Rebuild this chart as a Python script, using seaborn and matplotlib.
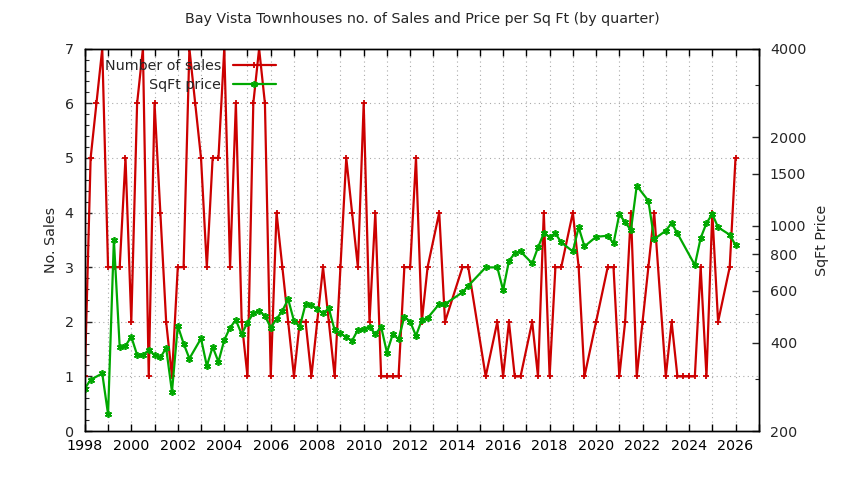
import numpy as np
import pandas as pd
import seaborn as sns
import matplotlib
matplotlib.use("Agg")
import matplotlib.pyplot as plt
from matplotlib.ticker import MultipleLocator, FixedLocator, NullFormatter, FixedFormatter

# quarterly number of sales
sales_year = [1998.0, 1998.25, 1998.5, 1998.75,
              1999.0, 1999.25, 1999.5, 1999.75,
              2000.0, 2000.25, 2000.5, 2000.75,
              2001.0, 2001.25, 2001.5, 2001.75,
              2002.0, 2002.25, 2002.5, 2002.75,
              2003.0, 2003.25, 2003.5, 2003.75,
              2004.0, 2004.25, 2004.5, 2004.75,
              2005.0, 2005.25, 2005.5, 2005.75,
              2006.0, 2006.25, 2006.5, 2006.75,
              2007.0, 2007.25, 2007.5, 2007.75,
              2008.0, 2008.25, 2008.5, 2008.75,
              2009.0, 2009.25, 2009.5, 2009.75,
              2010.0, 2010.25, 2010.5, 2010.75,
              2011.0, 2011.25, 2011.5, 2011.75,
              2012.0, 2012.25, 2012.5, 2012.75,
              2013.25, 2013.5, 2014.25, 2014.5,
              2015.25, 2015.75,
              2016.0, 2016.25, 2016.5, 2016.75,
              2017.25, 2017.5, 2017.75,
              2018.0, 2018.25, 2018.5,
              2019.0, 2019.25, 2019.5,
              2020.0, 2020.5, 2020.75,
              2021.0, 2021.25, 2021.5, 2021.75,
              2022.0, 2022.25, 2022.5,
              2023.0, 2023.25, 2023.5, 2023.75,
              2024.0, 2024.25, 2024.5, 2024.75,
              2025.0, 2025.25, 2025.75,
              2026.0]
sales_count = [1, 5, 6, 7,
               3, 3, 3, 5,
               2, 6, 7, 1,
               6, 4, 2, 1,
               3, 3, 7, 6,
               5, 3, 5, 5,
               7, 3, 6, 2,
               1, 6, 7, 6,
               1, 4, 3, 2,
               1, 2, 2, 1,
               2, 3, 2, 1,
               3, 5, 4, 3,
               6, 2, 4, 1,
               1, 1, 1, 3,
               3, 5, 2, 3,
               4, 2, 3, 3,
               1, 2,
               1, 2, 1, 1,
               2, 1, 4,
               1, 3, 3,
               4, 3, 1,
               2, 3, 3,
               1, 2, 4, 1,
               2, 3, 4,
               1, 2, 1, 1,
               1, 1, 3, 1,
               4, 2, 3,
               5]

# quarterly price per square foot
price_year = [1998.0, 1998.25, 1998.75,
              1999.0, 1999.25, 1999.5, 1999.75,
              2000.0, 2000.25, 2000.5, 2000.75,
              2001.0, 2001.25, 2001.5, 2001.75,
              2002.0, 2002.25, 2002.5,
              2003.0, 2003.25, 2003.5, 2003.75,
              2004.0, 2004.25, 2004.5, 2004.75,
              2005.0, 2005.25, 2005.5, 2005.75,
              2006.0, 2006.25, 2006.5, 2006.75,
              2007.0, 2007.25, 2007.5, 2007.75,
              2008.0, 2008.25, 2008.5, 2008.75,
              2009.0, 2009.25, 2009.5, 2009.75,
              2010.0, 2010.25, 2010.5, 2010.75,
              2011.0, 2011.25, 2011.5, 2011.75,
              2012.0, 2012.25, 2012.5, 2012.75,
              2013.25, 2013.5, 2014.25, 2014.5,
              2015.25, 2015.75,
              2016.0, 2016.25, 2016.5, 2016.75,
              2017.25, 2017.5, 2017.75,
              2018.0, 2018.25, 2018.5,
              2019.0, 2019.25, 2019.5,
              2020.0, 2020.5, 2020.75,
              2021.0, 2021.25, 2021.5, 2021.75,
              2022.25, 2022.5,
              2023.0, 2023.25, 2023.5,
              2024.25, 2024.5, 2024.75,
              2025.0, 2025.25, 2025.75,
              2026.0]
price_sqft = [279, 299, 314,
              228, 895, 387, 390,
              419, 363, 363, 377,
              363, 356, 383, 272,
              456, 397, 353,
              413, 333, 387, 344,
              408, 450, 477, 427,
              468, 503, 513, 493,
              450, 481, 513, 562,
              474, 453, 541, 538,
              520, 503, 523, 441,
              430, 417, 406, 442,
              445, 453, 427, 453,
              370, 427, 411, 490,
              471, 422, 477, 485,
              541, 541, 593, 624,
              721, 721,
              603, 759, 805, 817,
              744, 843, 941,
              916, 941, 877,
              817, 987, 850,
              916, 924, 870,
              1095, 1026, 966, 1367,
              1215, 900,
              961, 1020, 941,
              734, 907, 1020,
              1095, 987, 931,
              859]

sales_df = pd.DataFrame({"year": sales_year, "sales": sales_count})
price_df = pd.DataFrame({"year": price_year, "price": price_sqft})

sns.set_theme(style="white")
plt.rcParams["font.family"] = ["DejaVu Sans"]
plt.rcParams["font.size"] = 10

red = "#cc0000"
green = "#00a800"

fig = plt.figure(figsize=(8.44, 4.8), dpi=100)
ax = fig.add_axes([0.1005, 0.102, 0.7985, 0.7965])
ax2 = ax.twinx()

sns.lineplot(data=sales_df, x="year", y="sales", ax=ax, color=red, linewidth=1.6,
             marker="+", markersize=4.5, markeredgewidth=1.3, markeredgecolor=red,
             label="Number of sales", legend=False)
sns.lineplot(data=price_df, x="year", y="price", ax=ax2, color=green, linewidth=1.6,
             marker=(6, 2, 0), markersize=5, markeredgewidth=1.2, markeredgecolor=green,
             label="SqFt price", legend=False)

ax.set_xlim(1998, 2027)
ax.set_ylim(0, 7)
ax2.set_yscale("log")
ax2.set_ylim(200, 4000)

ax.xaxis.set_major_locator(MultipleLocator(2))
ax.xaxis.set_minor_locator(MultipleLocator(1))
ax.yaxis.set_major_locator(MultipleLocator(1))
ax.yaxis.set_minor_locator(MultipleLocator(0.2))
ax.xaxis.set_major_formatter(matplotlib.ticker.FormatStrFormatter("%d"))

ax2.yaxis.set_major_locator(FixedLocator([200, 400, 600, 800, 1000, 1500, 2000, 4000]))
ax2.yaxis.set_major_formatter(FixedFormatter(["200", "400", "600", "800", "1000", "1500", "2000", "4000"]))
ax2.yaxis.set_minor_locator(FixedLocator([300, 500, 700, 900, 3000]))
ax2.yaxis.set_minor_formatter(NullFormatter())

ax.tick_params(axis="x", which="both", direction="in", top=True, bottom=True, length=5, width=1,
               labelsize=10.3, pad=6, colors="black")
ax.tick_params(axis="y", which="major", direction="in", left=True, right=False, length=5, width=1,
               labelsize=10.3, pad=8)
ax.tick_params(axis="y", which="minor", direction="in", left=True, right=False, length=3, width=0.8)
ax2.tick_params(axis="y", which="major", direction="in", right=True, length=5, width=1,
                labelsize=10.3, pad=8)
ax2.tick_params(axis="y", which="minor", direction="in", right=True, length=3, width=0.8)

ax.grid(False)
ax2.grid(False)
for yr in range(1999, 2027):
    ax.axvline(yr, color="#aaaaaa", linewidth=0.8, linestyle=(0, (1, 3)), zorder=0)
for v in range(1, 7):
    ax.axhline(v, color="#aaaaaa", linewidth=0.8, linestyle=(0, (1, 3)), zorder=0)

for a in (ax, ax2):
    for s in a.spines.values():
        s.set_color("black")
        s.set_linewidth(1)

ax.set_xlabel("")
ax.set_ylabel("No. Sales", fontsize=10.3, labelpad=5)
ax2.set_ylabel("SqFt Price", fontsize=10.3, labelpad=6)

fig.suptitle("Bay Vista Townhouses no. of Sales and Price per Sq Ft (by quarter)",
             fontsize=10.3, y=0.975)

h1, l1 = ax.get_legend_handles_labels()
h2, l2 = ax2.get_legend_handles_labels()
ax2.legend(h1 + h2, l1 + l2, loc="upper right", bbox_to_anchor=(0.296, 0.995),
           frameon=False, markerfirst=False, handlelength=3.0, handletextpad=0.8,
           labelspacing=0.35, fontsize=10.3, borderaxespad=0.2)

fig.savefig("out.png", dpi=100)
